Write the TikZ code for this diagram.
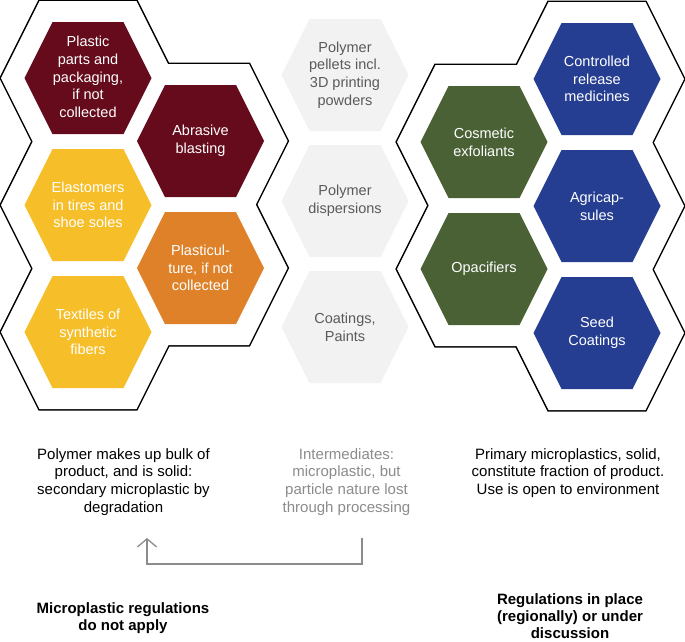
\documentclass[tikz,border=0pt]{standalone}
\usepackage{fontspec}
\setmainfont{Liberation Sans}
\usetikzlibrary{arrows.meta}
\definecolor{hexred}{HTML}{650B1C}
\definecolor{hexyellow}{HTML}{F6BF2A}
\definecolor{hexorange}{HTML}{DE8129}
\definecolor{hexgreen}{HTML}{4A6136}
\definecolor{hexblue}{HTML}{263E92}
\definecolor{hexgray}{HTML}{F2F2F2}
\definecolor{midtext}{HTML}{5A5A5A}
\definecolor{lighttext}{HTML}{8C8C8C}
\definecolor{arrowgray}{HTML}{8C8C8C}
\newcommand{\HexIn}[3]{\fill[#3,shift={(#1,#2)}] (63.5,0) -- (35.5,56) -- (-35.5,56) -- (-63.5,0) -- (-35.5,-56) -- (35.5,-56) -- cycle;}
\newcommand{\HexOutPath}[2]{[shift={(#1,#2)}] (87,0) -- (48.5,77) -- (-48.5,77) -- (-87,0) -- (-48.5,-77) -- (48.5,-77) -- cycle}
\tikzset{
  hextext/.style={align=center, text=white, font=\fontsize{14.5}{17.8}\selectfont, inner sep=0pt},
  midhextext/.style={hextext, text=midtext},
  bottomtext/.style={align=center, text=black, font=\fontsize{15}{17.8}\selectfont, inner sep=0pt},
  graytext/.style={bottomtext, text=lighttext},
  boldtext/.style={bottomtext, font=\fontsize{15}{17.2}\selectfont\bfseries},
  arrowline/.style={draw=arrowgray, line width=1.3pt},
  outline/.style={draw=black, line width=3pt, fill=white, line join=miter}
}
\begin{document}
\begin{tikzpicture}[x=1pt,y=-1pt]
\useasboundingbox (0,0) rectangle (685,641);
\fill[white] (0,0) rectangle (685,641);
% left group outline
\path[outline] \HexOutPath{88}{78};
\path[outline] \HexOutPath{88}{205};
\path[outline] \HexOutPath{88}{332};
\path[outline] \HexOutPath{200.5}{141};
\path[outline] \HexOutPath{200.5}{268};
\fill[white] \HexOutPath{88}{78};
\fill[white] \HexOutPath{88}{205};
\fill[white] \HexOutPath{88}{332};
\fill[white] \HexOutPath{200.5}{141};
\fill[white] \HexOutPath{200.5}{268};
% right group outline
\path[outline] \HexOutPath{484}{142};
\path[outline] \HexOutPath{484}{269};
\path[outline] \HexOutPath{597}{79};
\path[outline] \HexOutPath{597}{206};
\path[outline] \HexOutPath{597}{333};
\fill[white] \HexOutPath{484}{142};
\fill[white] \HexOutPath{484}{269};
\fill[white] \HexOutPath{597}{79};
\fill[white] \HexOutPath{597}{206};
\fill[white] \HexOutPath{597}{333};
% inner hexes
\HexIn{88}{78}{hexred}
\HexIn{88}{205}{hexyellow}
\HexIn{88}{332}{hexyellow}
\HexIn{200.5}{141}{hexred}
\HexIn{200.5}{268}{hexorange}
\HexIn{345}{75}{hexgray}
\HexIn{345}{201}{hexgray}
\HexIn{345}{327}{hexgray}
\HexIn{484}{142}{hexgreen}
\HexIn{484}{269}{hexgreen}
\HexIn{597}{79}{hexblue}
\HexIn{597}{206}{hexblue}
\HexIn{597}{333}{hexblue}
% hex texts
\node[hextext] (plastic) at (88,77) {Plastic\\parts and\\packaging,\\if not\\collected};
\node[hextext] (elast) at (88,205) {Elastomers\\in tires and\\shoe soles};
\node[hextext] (textiles) at (88,332) {Textiles of\\synthetic\\fibers};
\node[hextext] (abrasive) at (200.5,141) {Abrasive\\blasting};
\node[hextext] (plasticult) at (200.5,268) {Plasticul-\\ture, if not\\collected};
\node[midhextext] (pellets) at (345,75) {Polymer\\pellets incl.\\3D printing\\powders};
\node[midhextext] (disp) at (345,201) {Polymer\\dispersions};
\node[midhextext] (coat) at (345,327) {Coatings,\\Paints};
\node[hextext] (cosm) at (484,142) {Cosmetic\\exfoliants};
\node[hextext] (opac) at (484,269) {Opacifiers};
\node[hextext] (ctrl) at (597,79) {Controlled\\release\\medicines};
\node[hextext] (agri) at (597,206) {Agricap-\\sules};
\node[hextext] (seed) at (597,333) {Seed\\Coatings};
% bottom texts
\node[bottomtext] (lefttext) at (123.5,482) {Polymer makes up bulk of\\product, and is solid:\\secondary microplastic by\\degradation};
\node[graytext] (midtext) at (346.5,482) {Intermediates:\\microplastic, but\\particle nature lost\\through processing};
\node[bottomtext] (righttext) at (568,473) {Primary microplastics, solid,\\constitute fraction of product.\\Use is open to environment};
\node[boldtext] (leftbold) at (123,618) {Microplastic regulations\\do not apply};
\node[boldtext] (rightbold) at (570,616) {Regulations in place\\(regionally) or under\\discussion};
% arrow
\coordinate (arrStart) at (362,538);
\coordinate (arrCornerR) at (362,564);
\coordinate (arrCornerL) at (147,564);
\coordinate (arrEnd) at (147,538);
\draw[arrowline, -{Straight Barb[length=8pt,width=19pt,line width=1.3pt]}] (arrStart) -- (arrCornerR) -- (arrCornerL) -- (arrEnd);
\end{tikzpicture}
\end{document}
